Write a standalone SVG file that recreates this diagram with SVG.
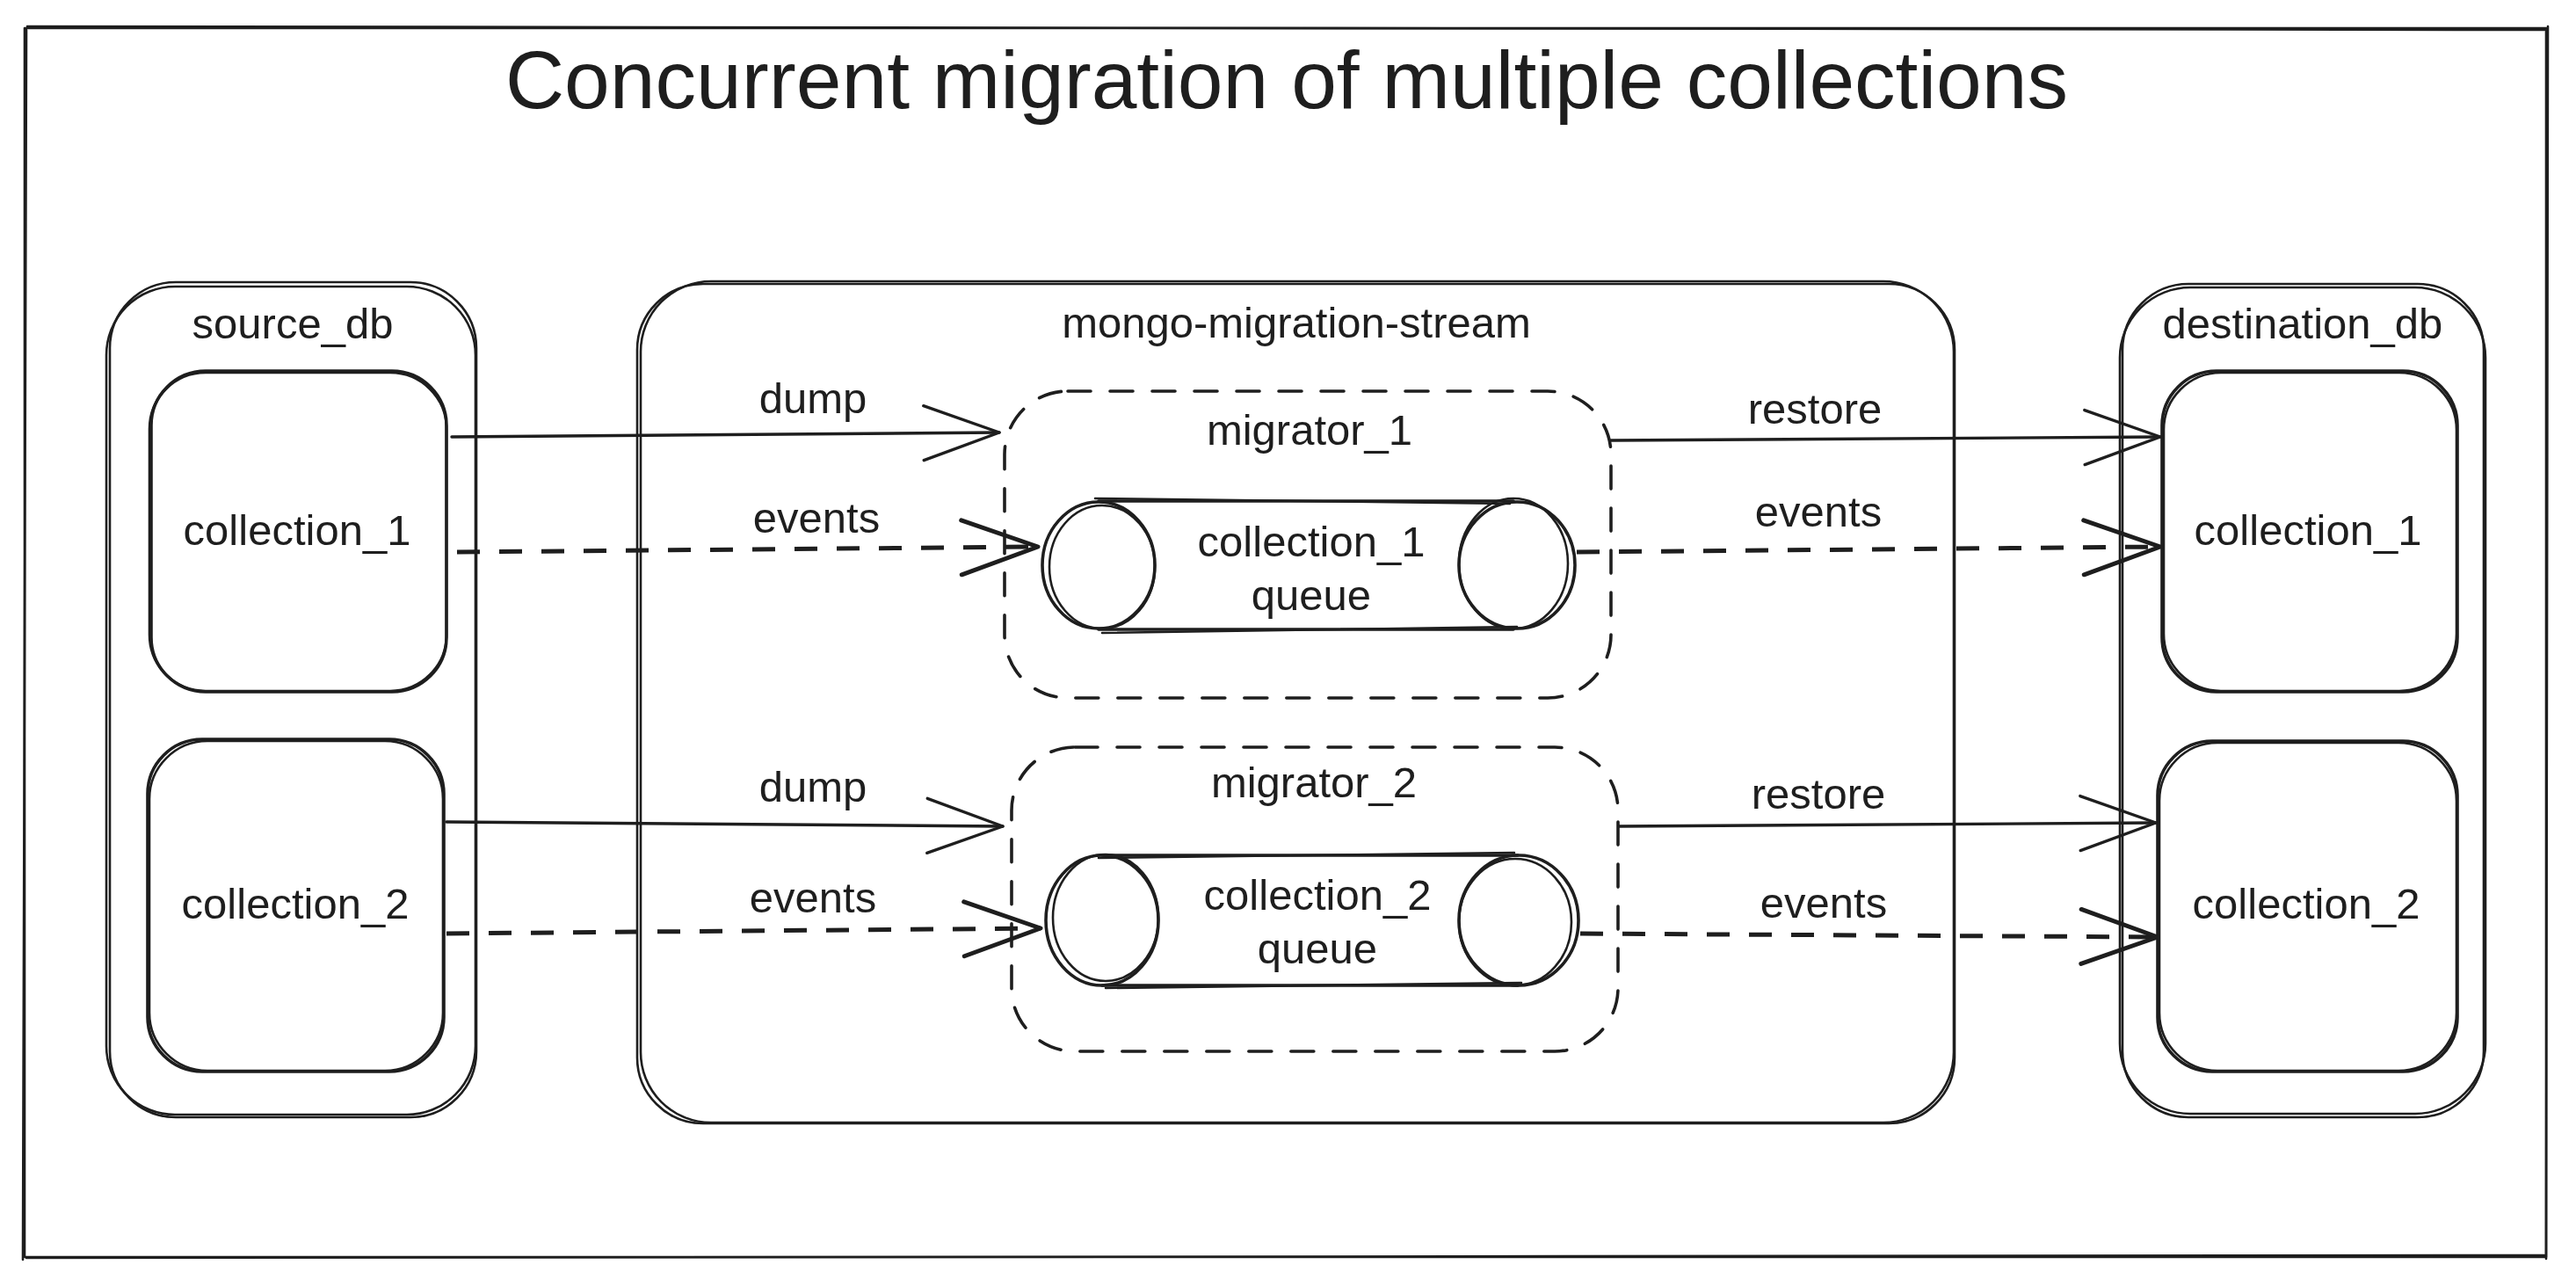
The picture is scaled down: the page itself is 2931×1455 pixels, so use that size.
<svg xmlns="http://www.w3.org/2000/svg" width="2931" height="1455" viewBox="0 0 2931 1455">
<style>
.sk{fill:none;stroke:#1e1e1e;stroke-width:2.6;stroke-linecap:round;stroke-linejoin:round}
.skb{fill:none;stroke:#1e1e1e;stroke-width:3.6;stroke-linecap:round;stroke-linejoin:round}
.dash{fill:none;stroke:#1e1e1e;stroke-width:3.6;stroke-dasharray:26 22;stroke-linecap:round}
.ln{fill:none;stroke:#1e1e1e;stroke-width:3.4;stroke-linecap:round}
.lnd{fill:none;stroke:#1e1e1e;stroke-width:5;stroke-dasharray:26 22}
text{font-family:"Liberation Sans",Arial,sans-serif;fill:#1e1e1e;text-anchor:middle}
.t{font-size:93px}
.l{font-size:49px}
</style>
<defs>
<marker id="ah" markerUnits="userSpaceOnUse" markerWidth="110" markerHeight="90" viewBox="-100 -45 110 90" refX="0" refY="0" orient="auto" overflow="visible">
<path d="M-86,-31 L0,0 L-86,31" fill="none" stroke="#1e1e1e" stroke-width="3.4" stroke-linecap="round" stroke-linejoin="round"/>
</marker>
<marker id="ahb" markerUnits="userSpaceOnUse" markerWidth="110" markerHeight="90" viewBox="-100 -45 110 90" refX="0" refY="0" orient="auto" overflow="visible">
<path d="M-87,-31 L0,0 L-87,31" fill="none" stroke="#1e1e1e" stroke-width="5" stroke-linecap="round" stroke-linejoin="round"/>
</marker>
</defs>
<rect width="2931" height="1455" fill="#ffffff"/>

<g id="frame">
<rect class="sk" x="28" y="32" width="2869" height="1398"/>
<path class="sk" d="M31,30 L2895,34 M2899,30 L2897,1432 M2895,1428 L30,1431 M26,1433 L30,34"/>
</g>

<g id="title">
<text class="t" x="1464" y="123">Concurrent migration of multiple collections</text>
</g>

<g id="source_db">
<rect class="sk" x="125" y="321" width="417" height="950" rx="75"/>
<rect class="sk" x="121" y="326" width="420" height="942" rx="78"/>
<text class="l" x="333" y="385">source_db</text>
</g>
<g id="src_collection_1">
<rect class="skb" x="172" y="422" width="336" height="365" rx="62"/>
<rect class="sk" x="170" y="424" width="338" height="362" rx="64"/>
<text class="l" x="338" y="620">collection_1</text>
</g>
<g id="src_collection_2">
<rect class="skb" x="168" y="841" width="337" height="378" rx="62"/>
<rect class="sk" x="170" y="843" width="334" height="375" rx="66"/>
<text class="l" x="336" y="1045">collection_2</text>
</g>

<g id="mongo_migration_stream">
<rect class="sk" x="725" y="323" width="1499" height="955" rx="75"/>
<rect class="sk" x="729" y="320" width="1494" height="957" rx="80"/>
<text class="l" x="1475" y="384">mongo-migration-stream</text>
</g>

<g id="migrator_1">
<rect class="dash" x="1143" y="445" width="690" height="349" rx="72"/>
<text class="l" x="1490" y="506">migrator_1</text>
</g>
<g id="queue_1">
<path class="skb" d="M1250,570 L1722,570 M1250,716 L1722,716"/>
<path class="sk" d="M1246,567 L1718,573 M1254,720 L1726,713"/>
<ellipse class="skb" cx="1250" cy="643" rx="64" ry="72"/>
<ellipse class="sk" cx="1254" cy="645" rx="60" ry="70"/>
<ellipse class="skb" cx="1726" cy="643" rx="66" ry="72"/>
<ellipse class="sk" cx="1722" cy="641" rx="62" ry="74"/>
<text class="l" x="1492" y="633">collection_1</text>
<text class="l" x="1492" y="694">queue</text>
</g>

<g id="migrator_2">
<rect class="dash" x="1151" y="850" width="690" height="346" rx="72"/>
<text class="l" x="1495" y="907">migrator_2</text>
</g>
<g id="queue_2">
<path class="skb" d="M1254,973 L1727,973 M1254,1121 L1727,1121"/>
<path class="sk" d="M1250,976 L1723,970 M1258,1124 L1731,1118"/>
<ellipse class="skb" cx="1254" cy="1047" rx="64" ry="74"/>
<ellipse class="sk" cx="1258" cy="1044" rx="60" ry="72"/>
<ellipse class="skb" cx="1728" cy="1047" rx="68" ry="74"/>
<ellipse class="sk" cx="1724" cy="1049" rx="64" ry="72"/>
<text class="l" x="1499" y="1035">collection_2</text>
<text class="l" x="1499" y="1096">queue</text>
</g>

<g id="destination_db">
<rect class="sk" x="2415" y="323" width="411" height="948" rx="75"/>
<rect class="sk" x="2412" y="327" width="416" height="940" rx="80"/>
<text class="l" x="2620" y="385">destination_db</text>
</g>
<g id="dst_collection_1">
<rect class="skb" x="2460" y="422" width="336" height="365" rx="62"/>
<rect class="sk" x="2462" y="424" width="333" height="362" rx="65"/>
<text class="l" x="2626" y="620">collection_1</text>
</g>
<g id="dst_collection_2">
<rect class="skb" x="2455" y="843" width="341" height="376" rx="62"/>
<rect class="sk" x="2457" y="845" width="338" height="373" rx="66"/>
<text class="l" x="2624" y="1045">collection_2</text>
</g>

<g id="connectors">
<line class="ln" x1="514" y1="497" x2="1137" y2="492" marker-end="url(#ah)"/>
<line class="lnd" x1="520" y1="628" x2="1181" y2="622" marker-end="url(#ahb)"/>
<line class="ln" x1="1833" y1="501" x2="2458" y2="497" marker-end="url(#ah)"/>
<line class="lnd" x1="1794" y1="628" x2="2458" y2="622" marker-end="url(#ahb)"/>
<line class="ln" x1="508" y1="935" x2="1141" y2="940" marker-end="url(#ah)"/>
<line class="lnd" x1="508" y1="1062" x2="1184" y2="1056" marker-end="url(#ahb)"/>
<line class="ln" x1="1842" y1="940" x2="2453" y2="936" marker-end="url(#ah)"/>
<line class="lnd" x1="1798" y1="1062" x2="2455" y2="1066" marker-end="url(#ahb)"/>
<text class="l" x="925" y="470">dump</text>
<text class="l" x="929" y="606">events</text>
<text class="l" x="2065" y="482">restore</text>
<text class="l" x="2069" y="599">events</text>
<text class="l" x="925" y="912">dump</text>
<text class="l" x="925" y="1038">events</text>
<text class="l" x="2069" y="920">restore</text>
<text class="l" x="2075" y="1044">events</text>
</g>
</svg>
